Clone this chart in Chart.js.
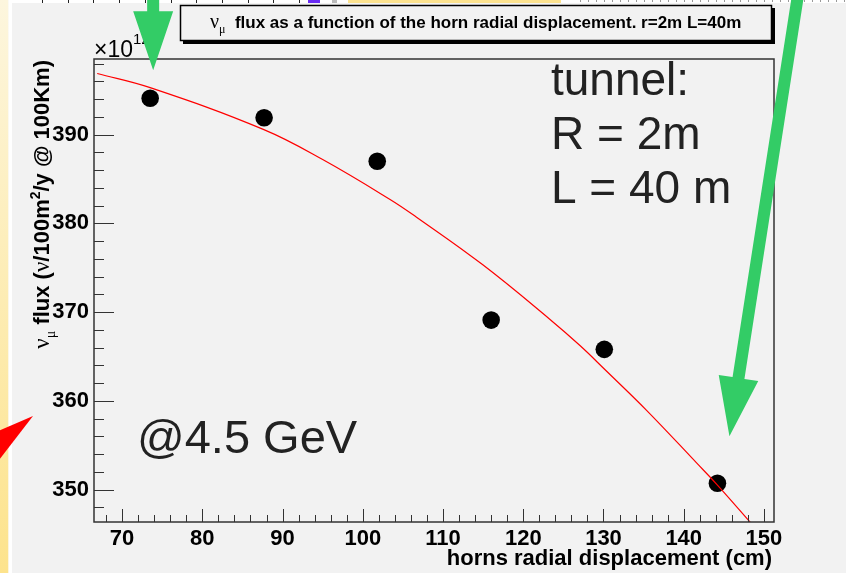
<!DOCTYPE html>
<html>
<head>
<meta charset="utf-8">
<script src="https://cdn.jsdelivr.net/npm/chart.js@4.4.0/dist/chart.umd.min.js"></script>
<style>
  html, body { margin: 0; padding: 0; background: #f2f2f2; }
  #wrap { position: relative; width: 846px; height: 573px; }
</style>
</head>
<body>
<div id="wrap"><canvas id="fluxChart"></canvas></div>
<script>
// Measured points (horn displacement in cm, flux in units of 1e12)
const displacement = [73.5, 87.7, 101.8, 116.0, 130.1, 144.2];
const flux = [394.1, 391.9, 387.0, 369.1, 365.8, 350.7];

// Red fit curve
const fitDisplacement = [66.9, 73.5, 87.6, 95.0, 103.4, 106.7, 115.0, 123.3, 127.1, 130.2, 135.4, 141.6, 144.2, 148.3];
const fitFlux = [396.9, 395.3, 390.6, 387.2, 382.7, 380.7, 375.3, 369.2, 366.2, 363.5, 358.9, 353.0, 350.5, 346.3];

// Labelled ticks
const xLabels = [70, 80, 90, 100, 110, 120, 130, 140, 150];
const yLabels = [350, 360, 370, 380, 390];

const sans = "'Liberation Sans', Arial, sans-serif";
const serif = "'Liberation Serif', 'Times New Roman', serif";
const green = '#33cc66';

// draw a run of text pieces with different fonts / offsets, returns total width
function drawPieces(ctx, pieces, x, y, measureOnly) {
	let cx = x;
	pieces.forEach(p => {
		ctx.font = p.font;
		if (!measureOnly) ctx.fillText(p.text, cx, y + (p.dy || 0));
		cx += ctx.measureText(p.text).width;
	});
	return cx - x;
}

function arrow(ctx, x0, y0, x1, y1, shaftW, headLen, headW) {
	const dx = x1 - x0, dy = y1 - y0;
	const len = Math.hypot(dx, dy);
	const ux = dx / len, uy = dy / len;
	const nx = -uy, ny = ux;
	const bx = x1 - ux * headLen, by = y1 - uy * headLen;
	ctx.beginPath();
	ctx.moveTo(x0 + nx * shaftW / 2, y0 + ny * shaftW / 2);
	ctx.lineTo(bx + nx * shaftW / 2, by + ny * shaftW / 2);
	ctx.lineTo(bx + nx * headW / 2, by + ny * headW / 2);
	ctx.lineTo(x1, y1);
	ctx.lineTo(bx - nx * headW / 2, by - ny * headW / 2);
	ctx.lineTo(bx - nx * shaftW / 2, by - ny * shaftW / 2);
	ctx.lineTo(x0 - nx * shaftW / 2, y0 - ny * shaftW / 2);
	ctx.closePath();
	ctx.fill();
}

// ticks every 2 units inside the axis range
function evenTicks(s) {
	const out = [];
	for (let v = Math.ceil(s.min / 2) * 2; v <= s.max; v += 2) out.push({ value: v });
	s.ticks = out;
}

const backdrop = {
	id: 'backdrop',
	beforeDraw(chart) {
		const ctx = chart.ctx;
		const h = chart.height;
		ctx.save();
		ctx.fillStyle = '#f2f2f2';
		ctx.fillRect(0, 0, chart.width, h);
		// yellow slide strip on the left
		const g = ctx.createLinearGradient(0, 0, 0, h);
		g.addColorStop(0, '#fdf6de');
		g.addColorStop(1, '#fde38c');
		ctx.fillStyle = g;
		ctx.fillRect(0, 0, 8.5, h);
		ctx.fillStyle = '#ffffff';
		ctx.fillRect(8.5, 0, 3.5, h);
		// red arrow head on the left edge
		ctx.fillStyle = '#ff0000';
		ctx.beginPath();
		ctx.moveTo(33, 416);
		ctx.lineTo(-4, 432);
		ctx.lineTo(-4, 464);
		ctx.closePath();
		ctx.fill();
		// strip of the slide above
		ctx.fillStyle = '#ffffff';
		ctx.fillRect(12, 0, chart.width - 12, 3);
		ctx.fillStyle = '#222';
		for (let x = 42; x < 305; x += 25.7) ctx.fillRect(Math.round(x), 0, 1, 3);
		ctx.fillStyle = '#6a2cf5';
		ctx.fillRect(308, 0, 12, 3);
		ctx.fillStyle = '#bbbbbb';
		ctx.fillRect(332, 0, 5, 3);
		ctx.fillStyle = '#fde38f';
		ctx.fillRect(348, 0, 213, 3);
		ctx.fillStyle = '#999';
		for (let x = 580; x < chart.width; x += 8) ctx.fillRect(x, 0, 1, 2);
		ctx.restore();
	}
};

const rootFrame = {
	id: 'rootFrame',
	afterDraw(chart) {
		const ctx = chart.ctx;
		const a = chart.chartArea;
		const xs = chart.scales.x, ys = chart.scales.y;
		ctx.save();
		ctx.strokeStyle = '#333';
		ctx.lineWidth = 1;
		// inner ticks
		ctx.beginPath();
		xs.ticks.forEach(t => {
			const px = Math.round(xs.getPixelForValue(t.value)) + 0.5;
			const len = xLabels.includes(t.value) ? 13 : 7;
			ctx.moveTo(px, a.bottom);
			ctx.lineTo(px, a.bottom - len);
		});
		ys.ticks.forEach(t => {
			const py = Math.round(ys.getPixelForValue(t.value)) + 0.5;
			const len = yLabels.includes(t.value) ? 20 : 10;
			ctx.moveTo(a.left, py);
			ctx.lineTo(a.left + len, py);
		});
		ctx.stroke();
		// frame
		ctx.lineWidth = 1.5;
		ctx.strokeRect(a.left, a.top, a.right - a.left, a.bottom - a.top);

		ctx.fillStyle = '#000';
		ctx.textBaseline = 'alphabetic';
		// exponent
		ctx.textAlign = 'left';
		drawPieces(ctx, [
			{ text: '\u00d710', font: '23px ' + sans },
			{ text: '12', font: '15px ' + sans, dy: -13 }
		], 94, 57);

		// x title
		ctx.textAlign = 'right';
		ctx.font = 'bold 22px ' + sans;
		ctx.fillText('horns radial displacement (cm)', 772, 565);

		// y title, rotated, ending at the top of the frame
		ctx.textAlign = 'left';
		const yTitle = [
			{ text: '\u03bd', font: '23px ' + serif },
			{ text: '\u03bc', font: '14px ' + serif, dy: 6 },
			{ text: ' flux (', font: 'bold 22px ' + sans },
			{ text: '\u03bd', font: '23px ' + serif },
			{ text: '/100m', font: 'bold 22px ' + sans },
			{ text: '2', font: 'bold 14px ' + sans, dy: -9 },
			{ text: '/y @ 100Km)', font: 'bold 22px ' + sans }
		];
		const w = drawPieces(ctx, yTitle, 0, 0, true);
		ctx.save();
		ctx.translate(49, a.top + 1);
		ctx.rotate(-Math.PI / 2);
		drawPieces(ctx, yTitle, -w, 0);
		ctx.restore();

		// title box with shadow
		ctx.fillStyle = '#000';
		ctx.fillRect(183, 8, 592, 36);
		ctx.fillStyle = '#f2f2f2';
		ctx.fillRect(180, 5, 592, 36);
		ctx.lineWidth = 1.5;
		ctx.strokeStyle = '#000';
		ctx.strokeRect(180.5, 5.5, 591, 35);
		ctx.fillStyle = '#000';
		drawPieces(ctx, [
			{ text: '\u03bd', font: '20px ' + serif },
			{ text: '\u03bc', font: '12px ' + serif, dy: 5 },
			{ text: '  flux as a function of the horn radial displacement. r=2m L=40m', font: 'bold 17px ' + sans }
		], 210, 28);

		// text notes
		ctx.fillStyle = '#222';
		ctx.font = '46px ' + sans;
		ctx.fillText('tunnel:', 551, 95);
		ctx.fillText('R = 2m', 551, 149);
		ctx.fillText('L = 40 m', 551, 203);
		ctx.font = '47px ' + sans;
		ctx.fillText('@4.5 GeV', 137, 453);

		// green arrows pointing at first and last measurement
		const pts = chart.getDatasetMeta(1).data;
		const first = pts[0], last = pts[pts.length - 1];
		ctx.fillStyle = green;
		arrow(ctx, first.x + 3, -5, first.x + 3, first.y - 28, 12, 59, 40);
		arrow(ctx, 798, -5, last.x + 12, last.y - 47, 12, 59, 40);
		ctx.restore();
	}
};

const fluxChart = new Chart(document.getElementById('fluxChart'), {
	type: 'scatter',
	data: {
		datasets: [
			{
				label: 'fit',
				data: fitDisplacement.map((x, i) => ({ x, y: fitFlux[i] })),
				showLine: true,
				borderColor: '#ff0000',
				borderWidth: 1.2,
				pointRadius: 0,
				tension: 0.4,
				order: 0
			},
			{
				label: 'flux',
				data: displacement.map((x, i) => ({ x, y: flux[i] })),
				backgroundColor: '#000',
				borderWidth: 0,
				pointRadius: 8.8,
				order: 1
			}
		]
	},
	options: {
		responsive: true,
		maintainAspectRatio: false,
		animation: false,
		events: [],
		layout: { padding: { left: 0, right: 72, top: 59, bottom: 0 } },
		plugins: { legend: { display: false }, tooltip: { enabled: false } },
		scales: {
			x: {
				type: 'linear',
				min: 66.5,
				max: 151.25,
				grid: { display: false, drawTicks: false },
				border: { display: false },
				ticks: {
					autoSkip: false,
					maxRotation: 0,
					padding: 4,
					color: '#000',
					font: { family: sans, size: 22, weight: 'bold' },
					callback: v => xLabels.includes(v) ? v : ''
				},
				afterBuildTicks: evenTicks,
				afterFit: s => { s.height = 51; }
			},
			y: {
				type: 'linear',
				min: 346.34,
				max: 398.53,
				grid: { display: false, drawTicks: false },
				border: { display: false },
				ticks: {
					autoSkip: false,
					padding: 5,
					color: '#000',
					font: { family: sans, size: 22, weight: 'bold' },
					callback: v => yLabels.includes(v) ? v : ''
				},
				afterBuildTicks: evenTicks,
				afterFit: s => { s.width = 94; }
			}
		}
	},
	plugins: [backdrop, rootFrame]
});
</script>
</body>
</html>
